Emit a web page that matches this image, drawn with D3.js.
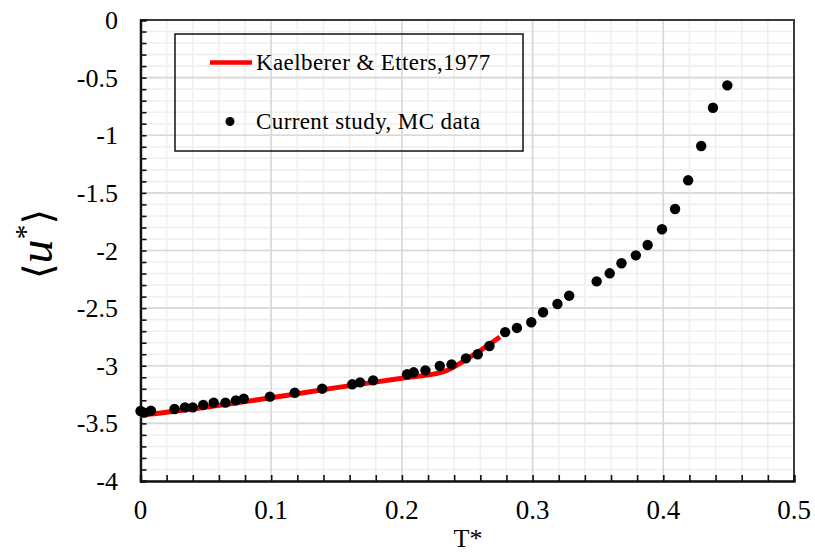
<!DOCTYPE html>
<html>
<head>
<meta charset="utf-8">
<script src="https://cdn.jsdelivr.net/npm/d3@7"></script>
<style>
  html, body { margin: 0; padding: 0; background: #fff; }
  svg { display: block; }
  text { font-family: "Liberation Serif", "Times New Roman", serif; fill: #000; }
</style>
</head>
<body>
<svg id="chart" width="815" height="554"></svg>
<script>
// Monte Carlo internal energy per spin vs reduced temperature
const mcT = [0, 0.003, 0.008, 0.026, 0.034, 0.040, 0.048, 0.056, 0.065, 0.073, 0.079,
  0.099, 0.118, 0.139, 0.162, 0.168, 0.178, 0.204, 0.209, 0.218, 0.229, 0.238,
  0.249, 0.258, 0.267, 0.279, 0.288, 0.299, 0.308, 0.319, 0.328, 0.349, 0.359,
  0.368, 0.379, 0.388, 0.399, 0.409, 0.419, 0.429, 0.438, 0.449];
const mcU = [-3.393, -3.407, -3.39, -3.375, -3.361, -3.361, -3.34, -3.32, -3.32, -3.30, -3.286,
  -3.268, -3.234, -3.199, -3.161, -3.144, -3.127, -3.074, -3.057, -3.04, -3.002, -2.988,
  -2.936, -2.90, -2.829, -2.708, -2.672, -2.623, -2.536, -2.464, -2.392, -2.268, -2.198,
  -2.111, -2.042, -1.952, -1.816, -1.640, -1.391, -1.093, -0.761, -0.567];

// Reference curve (Kaelberer & Etters, 1977)
const refT = [0, 0.05, 0.10, 0.15, 0.20, 0.232, 0.25, 0.275];
const refU = [-3.43, -3.36, -3.278, -3.19, -3.108, -3.05, -2.94, -2.75];

const xTicks = [0, 0.1, 0.2, 0.3, 0.4, 0.5];
const yTicks = [0, -0.5, -1, -1.5, -2, -2.5, -3, -3.5, -4];

const legendLabels = ["Kaelberer & Etters,1977", "Current study, MC data"];

const svg = d3.select("#chart");
const m = { left: 140.5, right: 794, top: 20, bottom: 481 };

const x = d3.scaleLinear().domain([0, 0.5]).range([m.left, m.right]);
const y = d3.scaleLinear().domain([-4, 0]).range([m.bottom, m.top]);

// grid: minor then major
const g = svg.append("g");
const xMinor = d3.range(0, 0.5001, 0.02);
const yMinor = d3.range(-4, 0.0001, 0.1);
g.selectAll(".xm").data(xMinor).enter().append("line")
  .attr("x1", d => x(d)).attr("x2", d => x(d)).attr("y1", m.top).attr("y2", m.bottom)
  .attr("stroke", "#efefef").attr("stroke-width", 1.6);
g.selectAll(".ym").data(yMinor).enter().append("line")
  .attr("y1", d => y(d)).attr("y2", d => y(d)).attr("x1", m.left).attr("x2", m.right)
  .attr("stroke", "#efefef").attr("stroke-width", 1.6);
g.selectAll(".xM").data(xTicks).enter().append("line")
  .attr("x1", d => x(d)).attr("x2", d => x(d)).attr("y1", m.top).attr("y2", m.bottom)
  .attr("stroke", "#d9d9d9").attr("stroke-width", 1.6);
g.selectAll(".yM").data(yTicks).enter().append("line")
  .attr("y1", d => y(d)).attr("y2", d => y(d)).attr("x1", m.left).attr("x2", m.right)
  .attr("stroke", "#d9d9d9").attr("stroke-width", 1.6);

// frame top/right
svg.append("path")
  .attr("d", `M${m.left},${m.top}H${m.right}V${m.bottom}`)
  .attr("fill", "none").attr("stroke", "#3a3a3a").attr("stroke-width", 2);

// axes with inward ticks
const xAxis = svg.append("g").attr("transform", `translate(0,${m.bottom})`)
  .call(d3.axisBottom(x).tickValues(xMinor).tickSize(-6).tickFormat(""));
const yAxis = svg.append("g").attr("transform", `translate(${m.left},0)`)
  .call(d3.axisLeft(y).tickValues(yMinor).tickSize(-6).tickFormat(""));
[xAxis, yAxis].forEach(a => {
  a.select(".domain").attr("stroke", "#111").attr("stroke-width", 2.4);
  a.selectAll(".tick line").attr("stroke", "#111").attr("stroke-width", 1.6);
});

// tick labels
svg.selectAll(".xl").data(xTicks).enter().append("text")
  .attr("x", d => x(d)).attr("y", 519)
  .attr("text-anchor", "middle").style("font-size", "27px")
  .text(d => d3.format("")(d));
svg.selectAll(".yl").data(yTicks).enter().append("text")
  .attr("x", 118).attr("y", d => y(d) + 9)
  .attr("text-anchor", "end").style("font-size", "26px")
  .text(d => d3.format("")(d).replace("−", "-"));

// axis titles
svg.append("text").attr("x", 468).attr("y", 547)
  .attr("text-anchor", "middle").style("font-size", "26px").text("T*");
const yt = svg.append("text")
  .attr("transform", "translate(52,244) rotate(-90)")
  .attr("text-anchor", "middle").style("font-size", "48px");
yt.append("tspan").style("font-family", "DejaVu Serif").style("font-size", "40px").text("\u27E8");
yt.append("tspan").style("font-style", "italic").text("u");
yt.append("tspan").attr("dy", -17).style("font-size", "30px").text("*");
yt.append("tspan").attr("dy", 17).style("font-family", "DejaVu Serif").style("font-size", "40px").text("\u27E9");

// reference curve
const line = d3.line().x(d => x(d[0])).y(d => y(d[1])).curve(d3.curveMonotoneX);
svg.append("path").datum(d3.zip(refT, refU))
  .attr("d", line).attr("fill", "none")
  .attr("stroke", "#ff0000").attr("stroke-width", 5);

// MC points
svg.selectAll(".pt").data(d3.zip(mcT, mcU)).enter().append("circle")
  .attr("cx", d => x(d[0])).attr("cy", d => y(d[1])).attr("r", 5.2).attr("fill", "#000");

// legend
const lg = svg.append("g");
lg.append("rect").attr("x", 175).attr("y", 34).attr("width", 348).attr("height", 117)
  .attr("fill", "none").attr("stroke", "#111").attr("stroke-width", 1.5);
lg.append("line").attr("x1", 210).attr("x2", 252).attr("y1", 62.5).attr("y2", 62.5)
  .attr("stroke", "#ff0000").attr("stroke-width", 4.5);
lg.append("circle").attr("cx", 230).attr("cy", 121.5).attr("r", 4.5).attr("fill", "#000");
lg.selectAll(".lt").data(legendLabels).enter().append("text")
  .attr("x", 256).attr("y", (d, i) => i === 0 ? 70 : 129)
  .style("font-size", "23px").style("letter-spacing", "0.4px").text(d => d);
</script>
</body>
</html>
